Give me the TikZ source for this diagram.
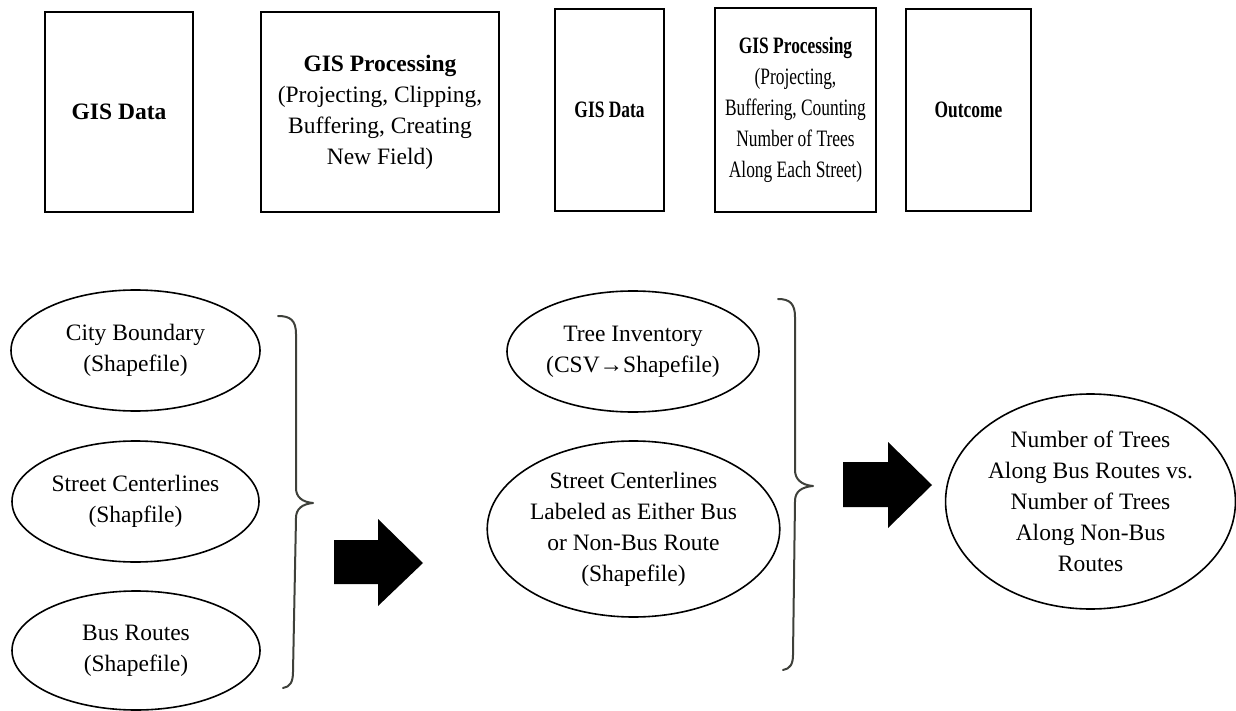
\documentclass[tikz,border=0pt]{standalone}
\usepackage{fontspec}
\setmainfont{Liberation Serif}
\newfontfamily\narrowserif{Liberation Serif}[FakeStretch=0.74]
\usetikzlibrary{shapes.geometric}
\definecolor{bracegray}{RGB}{62,64,58}
\tikzset{
  txt/.style={font=\fontsize{23.5}{31}\selectfont, align=center, text=black},
  narrowtxt/.style={font=\narrowserif\fontsize{23.5}{31}\selectfont},
  stage/.style={txt, draw=black, line width=2pt, rectangle, inner sep=0pt},
  item/.style={txt, draw=black, line width=1.6pt, ellipse, inner sep=0pt},
  brace/.style={draw=bracegray, line width=2pt, line cap=round, line join=round},
  blockarrow/.style={fill=black, draw=none}
}
\begin{document}
\begin{tikzpicture}[x=1pt, y=-1pt]
\useasboundingbox (0,0) rectangle (1236,711);

% top row: stage headers
\node[stage, minimum width=148pt, minimum height=200pt] (data1) at (119,112) {\textbf{GIS Data}};
\node[stage, minimum width=238pt, minimum height=200pt] (proc1) at (380,112)
  {\textbf{GIS Processing}\\(Projecting, Clipping,\\Buffering, Creating\\New Field)};
\node[stage, narrowtxt, minimum width=109pt, minimum height=202pt] (data2) at (609.5,110) {\textbf{GIS Data}};
\node[stage, narrowtxt, minimum width=161pt, minimum height=204pt] (proc2) at (795.5,110)
  {\textbf{GIS Processing}\\(Projecting,\\Buffering, Counting\\Number of Trees\\Along Each Street)};
\node[stage, narrowtxt, minimum width=125pt, minimum height=202pt] (outc) at (968.5,110) {\textbf{Outcome}};

% input layers
\node[item, minimum width=249pt, minimum height=121pt] (city) at (135.5,350.5) {City Boundary\\(Shapefile)};
\node[item, minimum width=247pt, minimum height=121pt] (street) at (135.5,501.5) {Street Centerlines\\(Shapfile)};
\node[item, minimum width=248pt, minimum height=119pt] (bus) at (136,650.5) {Bus Routes\\(Shapefile)};

% derived layers
\node[item, minimum width=252pt, minimum height=121pt] (trees) at (633,351.5) {Tree Inventory\\(CSV→Shapefile)};
\node[item, minimum width=285pt, minimum height=176pt] (labeled) at (633.5,529)
  {Street Centerlines\\Labeled as Either Bus\\or Non-Bus Route\\(Shapefile)};

% result
\node[item, minimum width=285pt, minimum height=215pt] (result) at (1090.5,501.5)
  {Number of Trees\\Along Bus Routes vs.\\Number of Trees\\Along Non-Bus\\Routes};

% grouping braces
\draw[brace] (278,316) .. controls (290,316) and (296,320) .. (296,334)
  -- (296,488) .. controls (296,497) and (302,502) .. (313,503)
  .. controls (302,504) and (296,509) .. (296,518)
  -- (293,672) .. controls (293,682) and (290,687) .. (283,688);
\draw[brace] (778,299) .. controls (790,299) and (795,304) .. (795,317)
  -- (795,470) .. controls (795,479) and (801,485) .. (813,486)
  .. controls (801,487) and (795,492) .. (795,501)
  -- (793,655) .. controls (793,664) and (790,669) .. (783,670);

% block arrows
\fill[blockarrow] (334,540) -- (378,540) -- (378,519) -- (423,563) -- (378,606) -- (378,584) -- (334,584) -- cycle;
\fill[blockarrow] (843,462) -- (888,462) -- (888,442) -- (932,485) -- (888,528) -- (888,507) -- (843,507) -- cycle;
\end{tikzpicture}
\end{document}
